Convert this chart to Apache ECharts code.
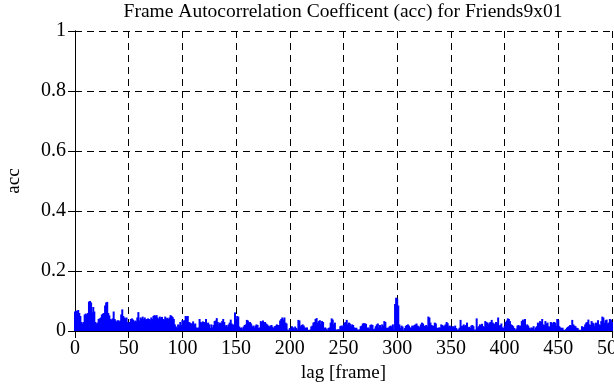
<!DOCTYPE html>
<html>
<head>
<meta charset="utf-8">
<script src="https://cdn.jsdelivr.net/npm/echarts@6/dist/echarts.min.js"></script>
<style>html,body{margin:0;padding:0;background:#fff;}#c{width:614px;height:385px;}</style>
</head>
<body>
<div id="c"></div>
<script>
const titleText = 'Frame Autocorrelation Coefficent (acc) for Friends9x01';
const xName = 'lag [frame]';
const yName = 'acc';
const xTicks = [0, 50, 100, 150, 200, 250, 300, 350, 400, 450, 500];
const yTicks = [0, 0.2, 0.4, 0.6, 0.8, 1];
// acc value for lag 0..500
const acc = [
0.065,0.068,0.066,0.070,0.060,0.050,0.030,0.025,0.030,0.055,
0.058,0.055,0.060,0.098,0.100,0.095,0.062,0.080,0.065,0.030,
0.025,0.028,0.040,0.042,0.045,0.055,0.058,0.060,0.085,0.095,
0.097,0.060,0.052,0.040,0.038,0.042,0.065,0.040,0.035,0.030,
0.036,0.032,0.035,0.055,0.072,0.050,0.045,0.042,0.045,0.030,
0.025,0.030,0.040,0.042,0.038,0.030,0.035,0.032,0.045,0.063,
0.035,0.045,0.042,0.048,0.040,0.045,0.038,0.040,0.042,0.040,
0.036,0.045,0.040,0.050,0.053,0.050,0.053,0.045,0.040,0.048,
0.042,0.047,0.040,0.038,0.048,0.042,0.044,0.040,0.045,0.053,
0.050,0.046,0.040,0.022,0.015,0.010,0.022,0.018,0.030,0.020,
0.036,0.034,0.036,0.050,0.048,0.050,0.030,0.028,0.025,0.025,
0.032,0.022,0.025,0.012,0.010,0.012,0.040,0.030,0.028,0.032,
0.030,0.028,0.040,0.025,0.028,0.022,0.010,0.022,0.012,0.020,
0.033,0.035,0.043,0.030,0.022,0.028,0.025,0.033,0.040,0.030,
0.018,0.020,0.015,0.022,0.028,0.038,0.025,0.020,0.022,0.062,
0.028,0.050,0.048,0.015,0.010,0.012,0.008,0.015,0.020,0.022,
0.037,0.035,0.028,0.030,0.025,0.015,0.018,0.012,0.018,0.022,
0.020,0.010,0.012,0.033,0.030,0.035,0.028,0.030,0.025,0.022,
0.018,0.015,0.018,0.020,0.014,0.010,0.016,0.018,0.022,0.020,
0.018,0.035,0.040,0.045,0.038,0.045,0.028,0.025,0.005,0.003,
0.010,0.006,0.016,0.012,0.008,0.015,0.010,0.005,0.037,0.035,
0.016,0.020,0.022,0.018,0.012,0.010,0.012,0.004,0.003,0.005,
0.015,0.018,0.028,0.030,0.040,0.043,0.028,0.033,0.036,0.022,
0.033,0.030,0.010,0.012,0.008,0.004,0.010,0.012,0.028,0.042,
0.038,0.022,0.028,0.005,0.004,0.006,0.005,0.016,0.018,0.015,
0.020,0.028,0.030,0.037,0.022,0.028,0.025,0.016,0.022,0.020,
0.012,0.010,0.011,0.005,0.004,0.006,0.016,0.018,0.025,0.026,
0.025,0.024,0.010,0.012,0.008,0.020,0.022,0.020,0.006,0.008,
0.016,0.022,0.025,0.011,0.020,0.012,0.022,0.018,0.033,0.030,
0.011,0.010,0.012,0.016,0.018,0.015,0.022,0.005,0.090,0.111,
0.108,0.085,0.022,0.011,0.018,0.015,0.004,0.010,0.017,0.020,
0.022,0.018,0.011,0.012,0.018,0.016,0.020,0.022,0.025,0.018,
0.016,0.012,0.022,0.028,0.025,0.018,0.016,0.020,0.015,0.048,
0.045,0.028,0.020,0.018,0.017,0.028,0.025,0.011,0.010,0.012,
0.011,0.022,0.020,0.016,0.018,0.022,0.030,0.026,0.016,0.018,
0.015,0.011,0.016,0.012,0.018,0.010,0.004,0.006,0.011,0.037,
0.016,0.018,0.022,0.016,0.020,0.028,0.012,0.014,0.010,0.018,
0.020,0.016,0.004,0.005,0.042,0.012,0.016,0.022,0.020,0.024,
0.016,0.014,0.033,0.030,0.028,0.022,0.028,0.030,0.037,0.028,
0.025,0.022,0.030,0.026,0.045,0.018,0.020,0.025,0.012,0.010,
0.016,0.030,0.035,0.042,0.040,0.033,0.022,0.020,0.016,0.010,
0.004,0.008,0.018,0.020,0.016,0.018,0.033,0.038,0.035,0.040,
0.016,0.022,0.018,0.011,0.008,0.012,0.010,0.016,0.005,0.012,
0.016,0.028,0.025,0.033,0.030,0.040,0.022,0.020,0.033,0.025,
0.028,0.016,0.014,0.030,0.028,0.022,0.030,0.028,0.018,0.040,
0.036,0.016,0.012,0.010,0.011,0.004,0.003,0.006,0.011,0.014,
0.016,0.020,0.018,0.037,0.022,0.018,0.016,0.011,0.010,0.005,
0.003,0.004,0.016,0.012,0.014,0.022,0.028,0.030,0.038,0.022,
0.020,0.033,0.028,0.025,0.016,0.028,0.025,0.036,0.022,0.020,
0.033,0.048,0.045,0.028,0.036,0.038,0.025,0.028,0.040,0.038,
0.030
];
const seriesData = acc.map((v, i) => [i, v]);

const font = 'Liberation Serif';
const chart = echarts.init(document.getElementById('c'), null, {renderer: 'canvas'});
const grid = {left: 75, right: 2, top: 31, bottom: 54, containLabel: false, outerBoundsMode: 'none'};
const dashed = {show: true, lineStyle: {color: '#000', type: [7, 5], width: 1}};
chart.setOption({
  animation: false,
  backgroundColor: '#fff',
  title: {
    text: titleText,
    left: 338, top: -3, textAlign: 'center',
    textStyle: {fontFamily: font, fontSize: 19.5, fontWeight: 'normal', color: '#000'}
  },
  grid: grid,
  xAxis: [{
    type: 'value', min: xTicks[0], max: xTicks[xTicks.length - 1], interval: 50,
    name: xName, nameLocation: 'middle', nameGap: 33,
    nameTextStyle: {fontFamily: font, fontSize: 19, color: '#000'},
    axisLine: {show: true, lineStyle: {color: '#000', width: 1}},
    axisTick: {show: true, inside: true, length: 7, lineStyle: {color: '#000'}},
    axisLabel: {fontFamily: font, fontSize: 20, color: '#000', margin: 8, showMaxLabel: true, showMinLabel: true, hideOverlap: false},
    splitLine: dashed
  }, {
    type: 'value', position: 'top', min: xTicks[0], max: xTicks[xTicks.length - 1], interval: 50,
    axisLine: {show: true, lineStyle: {color: '#000', width: 1}},
    axisTick: {show: true, inside: true, length: 7, lineStyle: {color: '#000'}},
    axisLabel: {show: false}, splitLine: {show: false}
  }],
  yAxis: [{
    type: 'value', min: yTicks[0], max: yTicks[yTicks.length - 1], interval: 0.2,
    name: yName, nameLocation: 'middle', nameGap: 51,
    nameTextStyle: {fontFamily: font, fontSize: 19, color: '#000'},
    axisLine: {show: true, lineStyle: {color: '#000', width: 1}},
    axisTick: {show: true, inside: true, length: 7, lineStyle: {color: '#000'}},
    axisLabel: {fontFamily: font, fontSize: 20, color: '#000', margin: 9},
    splitLine: dashed
  }, {
    type: 'value', position: 'right', min: yTicks[0], max: yTicks[yTicks.length - 1], interval: 0.2,
    axisLine: {show: true, lineStyle: {color: '#000', width: 1}},
    axisTick: {show: true, inside: true, length: 7, lineStyle: {color: '#000'}},
    axisLabel: {show: false}, splitLine: {show: false}
  }],
  series: [{
    type: 'bar',
    xAxisIndex: 0, yAxisIndex: 0,
    data: seriesData,
    barWidth: 2,
    itemStyle: {color: '#0000ff'},
    clip: true,
    silent: true
  }]
});
</script>
</body>
</html>
